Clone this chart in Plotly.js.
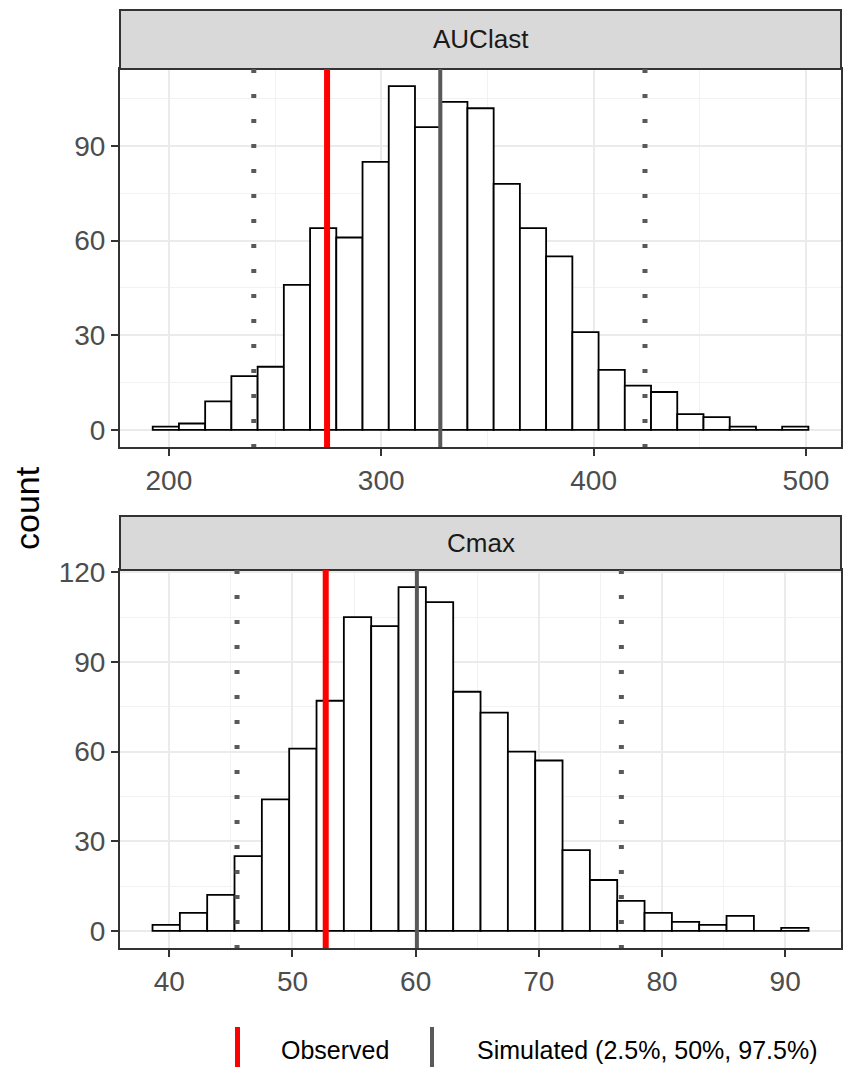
<!DOCTYPE html>
<html>
<head>
<meta charset="utf-8">
<script src="https://cdn.plot.ly/plotly-3.0.1.min.js"></script>
<style>
  html, body { margin: 0; padding: 0; background: #ffffff; }
  #chart { width: 844px; height: 1067px; }
</style>
</head>
<body>
<div id="chart"></div>
<script>
// Histogram counts of simulated exposure metrics (1000 simulations)
const panelNames = ['AUClast', 'Cmax'];

const auclastCounts = [1, 2, 9, 17, 20, 46, 64, 61, 85, 109, 96, 104, 102, 78, 64, 55, 31, 19, 14, 12, 5, 4, 1, 0, 1];
const auclastBinStart = 192.4;
const auclastBinWidth = 12.35;

const cmaxCounts = [2, 6, 12, 25, 44, 61, 77, 105, 102, 115, 110, 80, 73, 60, 57, 27, 17, 10, 6, 3, 2, 5, 0, 1];
const cmaxBinStart = 38.64;
const cmaxBinWidth = 2.219;

// Observed value per metric, and simulated 2.5%, 50%, 97.5% percentiles
const observedValues = [274.5, 52.7];
const auclastSimQuantiles = [240.0, 327.8, 424.2];
const cmaxSimQuantiles = [45.5, 60.1, 76.7];

const legendLabels = ['Observed', 'Simulated (2.5%, 50%, 97.5%)'];

// ---- layout geometry (pixels) ----
const W = 844, H = 1067;
const px = v => v / W;
const py = v => (H - v) / H;
const panelLeft = 120, panelRight = 841;
const panels = [
  { stripTop: 10,  stripBottom: 69,  plotTop: 69,  plotBottom: 447 },
  { stripTop: 516, stripBottom: 570, plotTop: 570, plotBottom: 948 }
];

const obsColor = '#FF0000';
const simColor = '#595959';
const frameColor = '#333333';

function binCenters(start, width, n) {
  const c = [];
  for (let i = 0; i < n; i++) c.push(start + width * (i + 0.5));
  return c;
}

function histTrace(counts, start, width, xa, ya) {
  return {
    type: 'bar',
    x: binCenters(start, width, counts.length),
    y: counts,
    width: width,
    xaxis: xa, yaxis: ya,
    marker: { color: '#FFFFFF', line: { color: '#000000', width: 1.8 } },
    showlegend: false,
    hoverinfo: 'x+y'
  };
}

const traces = [
  histTrace(auclastCounts, auclastBinStart, auclastBinWidth, 'x', 'y'),
  histTrace(cmaxCounts, cmaxBinStart, cmaxBinWidth, 'x2', 'y2')
];

function vline(x, xref, yref, color, width, dash) {
  return {
    type: 'line', layer: 'above',
    xref: xref, yref: yref + ' domain',
    x0: x, x1: x, y0: 1, y1: 0,
    line: { color: color, width: width, dash: dash }
  };
}

function refLines(obs, quant, xref, yref) {
  return [
    vline(quant[0], xref, yref, simColor, 5, '4px,21px'),
    vline(quant[2], xref, yref, simColor, 5, '4px,21px'),
    vline(quant[1], xref, yref, simColor, 4, 'solid'),
    vline(obs, xref, yref, obsColor, 6, 'solid')
  ];
}

const shapes = [];
const annotations = [];

// facet strips
panels.forEach((p, i) => {
  shapes.push({
    type: 'rect', xref: 'paper', yref: 'paper', layer: 'above',
    x0: px(panelLeft), x1: px(panelRight), y0: py(p.stripBottom), y1: py(p.stripTop),
    fillcolor: '#D9D9D9', line: { color: frameColor, width: 2 }
  });
  annotations.push({
    xref: 'paper', yref: 'paper',
    x: px((panelLeft + panelRight) / 2), y: py((p.stripTop + p.stripBottom) / 2),
    text: panelNames[i], showarrow: false,
    xanchor: 'center', yanchor: 'middle',
    font: { family: 'Liberation Sans, Arial, sans-serif', size: 26, color: '#1A1A1A' }
  });
});

shapes.push(...refLines(observedValues[0], auclastSimQuantiles, 'x', 'y'));
shapes.push(...refLines(observedValues[1], cmaxSimQuantiles, 'x2', 'y2'));

// legend keys
shapes.push({ type: 'line', xref: 'paper', yref: 'paper',
  x0: px(237.5), x1: px(237.5), y0: py(1027), y1: py(1067),
  line: { color: obsColor, width: 5 } });
shapes.push({ type: 'line', xref: 'paper', yref: 'paper',
  x0: px(432), x1: px(432), y0: py(1027), y1: py(1067),
  line: { color: simColor, width: 4 } });

const legendFont = { family: 'Liberation Sans, Arial, sans-serif', size: 25, color: '#000000' };
annotations.push({ xref: 'paper', yref: 'paper', x: px(279), y: py(1050),
  text: legendLabels[0], showarrow: false, xanchor: 'left', yanchor: 'middle', font: legendFont });
annotations.push({ xref: 'paper', yref: 'paper', x: px(475), y: py(1050),
  text: legendLabels[1], showarrow: false, xanchor: 'left', yanchor: 'middle', font: legendFont });

// y-axis title
annotations.push({ xref: 'paper', yref: 'paper', x: px(27), y: py(508),
  text: 'count', showarrow: false, textangle: -90,
  xanchor: 'center', yanchor: 'middle',
  font: { family: 'Liberation Sans, Arial, sans-serif', size: 34, color: '#000000' } });

const tickFont = { family: 'Liberation Sans, Arial, sans-serif', size: 28, color: '#4D4D4D' };

function axisStyle(extra) {
  return Object.assign({
    showgrid: true, gridcolor: '#EBEBEB', gridwidth: 2,
    zeroline: false,
    showline: true, linecolor: frameColor, linewidth: 2, mirror: true,
    ticks: 'outside', ticklen: 7, tickwidth: 2, tickcolor: frameColor,
    tickfont: tickFont, fixedrange: true
  }, extra);
}

const layout = {
  width: W, height: H,
  margin: { l: 0, r: 0, t: 0, b: 0 },
  paper_bgcolor: '#FFFFFF', plot_bgcolor: '#FFFFFF',
  showlegend: false,
  barmode: 'overlay',
  xaxis: axisStyle({
    domain: [px(panelLeft), px(panelRight)], anchor: 'y',
    range: [177.0, 516.5], tick0: 0, dtick: 100,
    minor: { dtick: 50, showgrid: true, gridcolor: '#F2F2F2', gridwidth: 1 }
  }),
  yaxis: axisStyle({
    domain: [py(panels[0].plotBottom), py(panels[0].plotTop)], anchor: 'x',
    range: [-5.45, 114.45], tick0: 0, dtick: 30,
    minor: { dtick: 15, showgrid: true, gridcolor: '#F2F2F2', gridwidth: 1 }
  }),
  xaxis2: axisStyle({
    domain: [px(panelLeft), px(panelRight)], anchor: 'y2',
    range: [36.0, 94.53], tick0: 0, dtick: 10,
    minor: { dtick: 5, showgrid: true, gridcolor: '#F2F2F2', gridwidth: 1 }
  }),
  yaxis2: axisStyle({
    domain: [py(panels[1].plotBottom), py(panels[1].plotTop)], anchor: 'x2',
    range: [-5.75, 120.75], tick0: 0, dtick: 30,
    minor: { dtick: 15, showgrid: true, gridcolor: '#F2F2F2', gridwidth: 1 }
  }),
  shapes: shapes,
  annotations: annotations
};

Plotly.newPlot('chart', traces, layout, { displayModeBar: false, staticPlot: true });
</script>
</body>
</html>
